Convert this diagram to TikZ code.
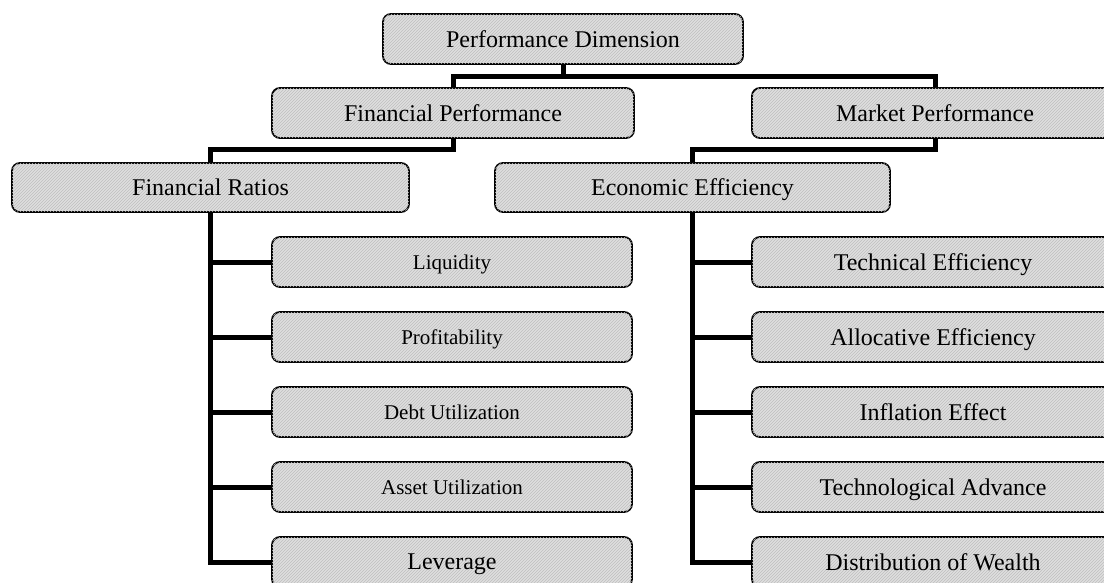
\documentclass[tikz,border=0pt]{standalone}
\usepackage{fontspec}
\setmainfont{Liberation Serif}
\usetikzlibrary{patterns}
\tikzset{
  box/.style={draw=black, line width=1.8pt, rounded corners=8pt,
    fill=gray!25, postaction={pattern=north east lines, pattern color=gray!50},
    inner sep=0pt, anchor=center, text depth=0pt},
  big/.style={box, font=\fontsize{24}{24}\selectfont},
  small/.style={box, font=\fontsize{21}{21}\selectfont},
  conn/.style={draw=black, line width=5pt, line join=miter}
}
\begin{document}
\begin{tikzpicture}[x=1pt,y=-1pt]
\useasboundingbox (0,0) rectangle (1104,583);
\fill[white] (0,0) rectangle (1104,583);

% levels one and two
\node[big, minimum width=360pt, minimum height=50pt] (pd) at (563,39) {Performance Dimension};
\node[big, minimum width=362pt, minimum height=50pt] (fp) at (453,113) {Financial Performance};
\node[big, minimum width=366pt, minimum height=50pt] (mp) at (935,113) {Market Performance};
\node[big, minimum width=397pt, minimum height=49pt] (fr) at (210.5,187.5) {Financial Ratios};
\node[big, minimum width=395pt, minimum height=49pt] (ee) at (692.5,187.5) {Economic Efficiency};

% financial ratios
\node[small, minimum width=360pt, minimum height=50pt] (liq) at (452,262) {Liquidity};
\node[small, minimum width=360pt, minimum height=50pt] (pro) at (452,337) {Profitability};
\node[small, minimum width=360pt, minimum height=50pt] (debt) at (452,412) {Debt Utilization};
\node[small, minimum width=360pt, minimum height=50pt] (asset) at (452,487) {Asset Utilization};
\node[big, minimum width=360pt, minimum height=50pt] (lev) at (452,562) {Leverage};

% economic efficiency
\node[big, minimum width=362pt, minimum height=50pt] (tech) at (933,262) {Technical Efficiency};
\node[big, minimum width=362pt, minimum height=50pt] (alloc) at (933,337) {Allocative Efficiency};
\node[big, minimum width=362pt, minimum height=50pt] (infl) at (933,412) {Inflation Effect};
\node[big, minimum width=362pt, minimum height=50pt] (tadv) at (933,487) {Technological Advance};
\node[big, minimum width=362pt, minimum height=50pt] (dist) at (933,562) {Distribution of Wealth};

% connectors
\coordinate (bus1) at (563,77);
\coordinate (bus2) at (453,150);
\coordinate (bus3) at (935,150);
\draw[conn] (pd.south) -- (bus1);
\draw[conn] (fp.north) |- (bus1) -| (mp.north);
\draw[conn] (fp.south) -- (bus2) -| (fr.north);
\draw[conn] (mp.south) -- (bus3) -| (ee.north);

\draw[conn] (fr.south) |- (lev.west);
\foreach \n in {liq,pro,debt,asset}
  \draw[conn] (fr.south |- \n.west) -- (\n.west);
\draw[conn] (ee.south) |- (dist.west);
\foreach \n in {tech,alloc,infl,tadv}
  \draw[conn] (ee.south |- \n.west) -- (\n.west);
\end{tikzpicture}
\end{document}
